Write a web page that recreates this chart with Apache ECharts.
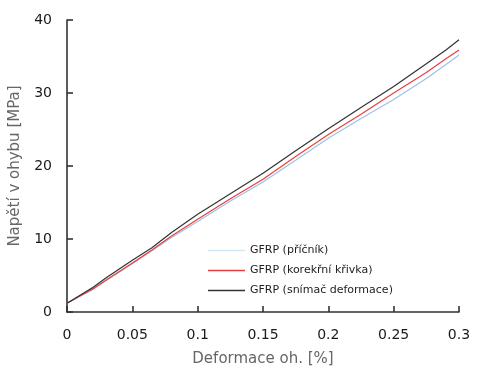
<!DOCTYPE html>
<html>
<head>
<meta charset="utf-8">
<script src="https://cdn.jsdelivr.net/npm/echarts@6/dist/echarts.min.js"></script>
<style>
  html, body { margin: 0; padding: 0; background: #fff; }
  #box { width: 481px; height: 377px; }
</style>
</head>
<body>
<div id="box"></div>
<script>
// deformace (x)
var strain = [0, 0.01, 0.02, 0.03, 0.05, 0.065, 0.08, 0.1, 0.125, 0.15, 0.175, 0.2, 0.225, 0.25, 0.275, 0.29, 0.3]
// napětí - příčník
var crosshead = [1.2, 2.2, 3.1, 4.3, 6.6, 8.4, 10.2, 12.4, 15.2, 17.8, 20.8, 23.8, 26.5, 29.1, 32.0, 33.9, 35.2]
// napětí - korekční křivka
var corrected = [1.2, 2.2, 3.2, 4.4, 6.7, 8.5, 10.4, 12.7, 15.5, 18.2, 21.3, 24.3, 27.1, 30.0, 32.8, 34.7, 35.9]
// napětí - snímač deformace
var gauge = [1.2, 2.3, 3.4, 4.7, 7.1, 8.8, 10.9, 13.4, 16.2, 19.0, 22.1, 25.1, 28.0, 30.9, 34.0, 35.9, 37.3]

var names = ['GFRP (příčník)', 'GFRP (korekřní křivka)', 'GFRP (snímač deformace)']
var colors = ['#9cc2e6', '#e8403e', '#333333']

function pairs(ys) {
  return strain.map(function (x, i) { return [x, ys[i]] })
}

var chart = echarts.init(document.getElementById('box'))

var axisCommon = {
  axisLine: { show: true, lineStyle: { color: '#333', width: 1.6 } },
  axisTick: { show: true, inside: true, length: 6, lineStyle: { color: '#333', width: 1.6 } },
  splitLine: { show: false },
  axisLabel: { color: '#1a1a1a', fontSize: 14, fontFamily: 'DejaVu Sans' },
  nameTextStyle: { color: '#666', fontSize: 15, fontFamily: 'DejaVu Sans' }
}

chart.setOption({
  animation: false,
  grid: { left: 65, right: 22, top: 20, bottom: 65 },
  legend: {
    orient: 'vertical',
    left: 203,
    top: 240,
    icon: 'rect',
    itemWidth: 37,
    itemHeight: 1.5,
    itemGap: 9,
    textStyle: { color: '#222', fontSize: 11, fontFamily: 'DejaVu Sans' },
    data: [
      { name: names[0], itemStyle: { color: '#d2e5f2' } },
      { name: names[1] },
      { name: names[2] }
    ]
  },
  xAxis: Object.assign({}, axisCommon, {
    type: 'value',
    min: 0,
    max: 0.3,
    interval: 0.05,
    name: 'Deformace oh. [%]',
    nameLocation: 'middle',
    nameGap: 40,
    axisLabel: Object.assign({}, axisCommon.axisLabel, { margin: 16 })
  }),
  yAxis: Object.assign({}, axisCommon, {
    type: 'value',
    min: 0,
    max: 40,
    interval: 10,
    name: 'Napětí v ohybu [MPa]',
    nameLocation: 'middle',
    nameGap: 44,
    axisLabel: Object.assign({}, axisCommon.axisLabel, { margin: 15 })
  }),
  series: [crosshead, corrected, gauge].map(function (ys, i) {
    return {
      name: names[i],
      type: 'line',
      symbol: 'none',
      data: pairs(ys),
      lineStyle: { color: colors[i], width: 1.2 },
      itemStyle: { color: colors[i] }
    }
  })
})
</script>
</body>
</html>
